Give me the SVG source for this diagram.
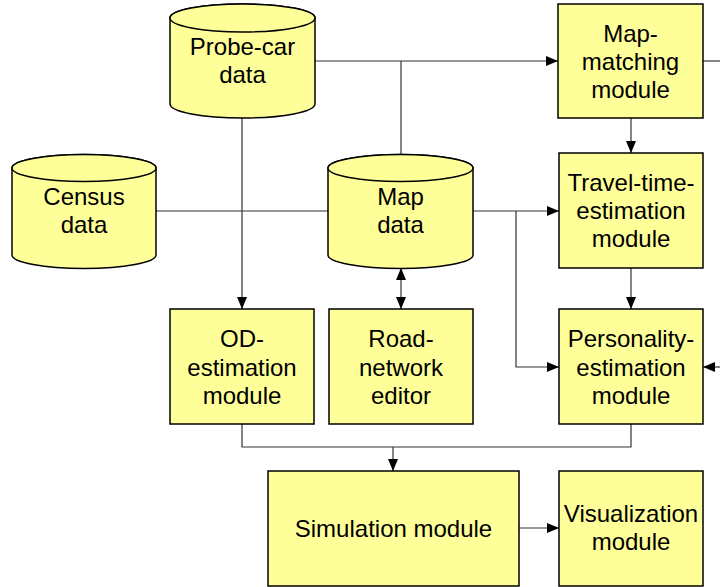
<svg xmlns="http://www.w3.org/2000/svg" width="720" height="587" viewBox="0 0 720 587">
  <defs>
    <style>
      .node { fill: #FFFF99; stroke: #000; stroke-width: 1.5; }
      .lbl { font-family: "Liberation Sans", Arial, sans-serif; font-size: 24px; fill: #000; text-anchor: middle; }
      .wire { fill: none; stroke: #333; stroke-width: 1.2; }
    </style>
    <marker id="arr" viewBox="0 0 12 10" refX="12" refY="5" markerWidth="12" markerHeight="10" markerUnits="userSpaceOnUse" orient="auto">
      <path d="M0,0 L12,5 L0,10 Z" fill="#000"/>
    </marker>
    <marker id="arrStart" viewBox="0 0 12 10" refX="0" refY="5" markerWidth="12" markerHeight="10" markerUnits="userSpaceOnUse" orient="auto">
      <path d="M12,0 L0,5 L12,10 Z" fill="#000"/>
    </marker>
  </defs>
  <rect width="720" height="587" fill="#fff"/>

  <!-- connectors -->
  <g id="connectors">
    <path class="wire" d="M315,61 H558" marker-end="url(#arr)"/>
    <path class="wire" d="M401,61 V154"/>
    <path class="wire" d="M242,118 V309" marker-end="url(#arr)"/>
    <path class="wire" d="M156,211 H328"/>
    <path class="wire" d="M473,211 H559" marker-end="url(#arr)"/>
    <path class="wire" d="M516,211 V367 H559" marker-end="url(#arr)"/>
    <path class="wire" d="M631,118 V153" marker-end="url(#arr)"/>
    <path class="wire" d="M631,268 V309" marker-end="url(#arr)"/>
    <path class="wire" d="M401,268 V309" marker-start="url(#arrStart)" marker-end="url(#arr)"/>
    <path class="wire" d="M242,424 V447 H631 V424"/>
    <path class="wire" d="M393,447 V471" marker-end="url(#arr)"/>
    <path class="wire" d="M519,528 H559" marker-end="url(#arr)"/>
    <path class="wire" d="M703,61 H720"/>
    <path class="wire" d="M720,367 H703" marker-end="url(#arr)"/>
  </g>

  <!-- data stores -->
  <g id="probe-car-data">
    <path class="node" d="M170,18 A72.5,14 0 0 1 315,18 V104 A72.5,14 0 0 1 170,104 Z"/>
    <ellipse class="node" cx="242.5" cy="18" rx="72.5" ry="14"/>
    <text class="lbl" x="242.5" y="55">Probe-car</text>
    <text class="lbl" x="242.5" y="83">data</text>
  </g>
  <g id="census-data">
    <path class="node" d="M12,168 A72,13.5 0 0 1 156,168 V255 A72,13.5 0 0 1 12,255 Z"/>
    <ellipse class="node" cx="84" cy="168" rx="72" ry="13.5"/>
    <text class="lbl" x="84" y="205">Census</text>
    <text class="lbl" x="84" y="233">data</text>
  </g>
  <g id="map-data">
    <path class="node" d="M328,168 A72.5,13.5 0 0 1 473,168 V255 A72.5,13.5 0 0 1 328,255 Z"/>
    <ellipse class="node" cx="400.5" cy="168" rx="72.5" ry="13.5"/>
    <text class="lbl" x="400.5" y="205">Map</text>
    <text class="lbl" x="400.5" y="233">data</text>
  </g>

  <!-- modules -->
  <g id="map-matching">
    <rect class="node" x="558" y="4" width="145" height="114"/>
    <text class="lbl" x="630.5" y="42">Map-</text>
    <text class="lbl" x="630.5" y="70">matching</text>
    <text class="lbl" x="630.5" y="98">module</text>
  </g>
  <g id="travel-time">
    <rect class="node" x="559" y="153" width="144" height="115"/>
    <text class="lbl" x="631" y="191">Travel-time-</text>
    <text class="lbl" x="631" y="219">estimation</text>
    <text class="lbl" x="631" y="247">module</text>
  </g>
  <g id="od-estimation">
    <rect class="node" x="170" y="309" width="144" height="115"/>
    <text class="lbl" x="242" y="347">OD-</text>
    <text class="lbl" x="242" y="376">estimation</text>
    <text class="lbl" x="242" y="404">module</text>
  </g>
  <g id="road-network">
    <rect class="node" x="329" y="309" width="144" height="115"/>
    <text class="lbl" x="401" y="347">Road-</text>
    <text class="lbl" x="401" y="376">network</text>
    <text class="lbl" x="401" y="404">editor</text>
  </g>
  <g id="personality">
    <rect class="node" x="559" y="309" width="144" height="115"/>
    <text class="lbl" x="631" y="347">Personality-</text>
    <text class="lbl" x="631" y="376">estimation</text>
    <text class="lbl" x="631" y="404">module</text>
  </g>
  <g id="simulation">
    <rect class="node" x="268" y="471" width="251" height="115"/>
    <text class="lbl" x="393.5" y="537">Simulation module</text>
  </g>
  <g id="visualization">
    <rect class="node" x="559" y="471" width="144" height="115"/>
    <text class="lbl" x="631" y="522">Visualization</text>
    <text class="lbl" x="631" y="550">module</text>
  </g>
</svg>
